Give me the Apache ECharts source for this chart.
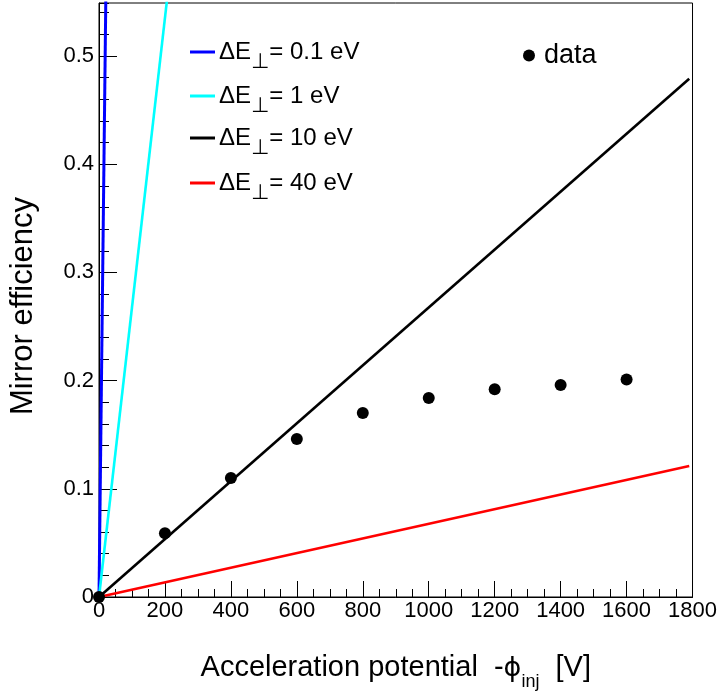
<!DOCTYPE html>
<html>
<head>
<meta charset="utf-8">
<script src="https://cdn.jsdelivr.net/npm/echarts@6/dist/echarts.min.js"></script>
<style>html,body{margin:0;padding:0;background:#fff;}#c{width:720px;height:696px;}</style>
</head>
<body>
<div id="c"></div>
<script>
// ---- data ----
const dataX = [0, 200, 400, 600, 800, 1000, 1200, 1400, 1600];
const dataY = [0, 0.059, 0.110, 0.146, 0.170, 0.184, 0.192, 0.196, 0.201];
const modelNames = ['0.1', '1', '10', '40'];
const modelStartX = 0;
const modelEndX = 1790;
const modelEndY = [47.9, 4.79, 0.479, 0.121];
const modelColors = ['#0000ff', '#00ffff', '#000000', '#ff0000'];
const xTicks = [0, 200, 400, 600, 800, 1000, 1200, 1400, 1600, 1800];
const yTicks = [0, 0.1, 0.2, 0.3, 0.4, 0.5];

const FONT = 'Liberation Sans, Arial, sans-serif';
const chart = echarts.init(document.getElementById('c'), null, {renderer: 'canvas'});

const lineSeries = modelNames.map((n, i) => ({
  name: 'm' + i,
  type: 'line',
  xAxisIndex: 0, yAxisIndex: 0,
  data: [[modelStartX, 0], [modelEndX, modelEndY[i]]],
  showSymbol: false, symbol: 'none',
  clip: true,
  lineStyle: {color: modelColors[i], width: i === 0 ? 3 : 2.6},
  itemStyle: {color: modelColors[i]},
  z: 2
}));

const scatter = {
  name: 'data',
  type: 'scatter',
  data: dataX.map((x, i) => [x, dataY[i]]),
  symbol: 'circle', symbolSize: 12,
  itemStyle: {color: '#000', opacity: 1},
  clip: false,
  z: 5
};

const legendRich = {
  a: {fontSize: 24, fontFamily: FONT, color: '#000', verticalAlign: 'bottom', padding: [0, 0, 9, 0]},
  s: {fontSize: 21, fontFamily: 'DejaVu Sans, Liberation Sans, sans-serif', color: '#000', verticalAlign: 'bottom'}
};
const legendTops = [40, 84, 126, 171];
const legends = modelNames.map((n, i) => ({
  show: true,
  left: 190, top: legendTops[i],
  padding: 0,
  data: ['m' + i],
  itemWidth: 25, itemHeight: 3,
  icon: 'rect',
  itemStyle: {color: modelColors[i]},
  formatter: () => '{a|ΔE}{s|⊥}{a|= ' + n + ' eV}',
  textStyle: {rich: legendRich, padding: [9, 0, 0, -1]},
  selectedMode: false
}));
legends.push({
  show: true, left: 523, top: 42, padding: 0,
  data: ['data'], icon: 'circle', itemWidth: 12, itemHeight: 12,
  textStyle: {fontSize: 27, fontFamily: FONT, color: '#000', padding: [0, 0, 0, 4]},
  selectedMode: false
});

const option = {
  animation: false,
  backgroundColor: '#fff',
  grid: {left: 98, right: 26, top: 3, bottom: 93, show: true, borderColor: '#000', borderWidth: 1, backgroundColor: 'transparent'},
  legend: legends,
  xAxis: {
    type: 'value', min: 0, max: 1800, interval: 200,
    axisLine: {show: true, lineStyle: {color: '#000', width: 1}},
    axisTick: {show: true, inside: true, length: 16, lineStyle: {color: '#000', width: 1}},
    minorTick: {show: true, splitNumber: 4, length: 8, lineStyle: {color: '#000', width: 1}},
    splitLine: {show: false},
    axisLabel: {fontSize: 22, fontFamily: FONT, color: '#000', margin: 3,
      formatter: v => xTicks.indexOf(v) >= 0 ? String(v) : ''},
    name: '{a|Acceleration potential  -}{p|ϕ}{s|inj}{a|  [V]}',
    nameLocation: 'middle', nameGap: 56,
    nameTextStyle: {rich: {
      a: {fontSize: 29, fontFamily: FONT, color: '#000', verticalAlign: 'bottom', padding: [0, 0, 9, 0]},
      p: {fontSize: 27, fontFamily: 'DejaVu Sans, sans-serif', color: '#000', verticalAlign: 'bottom', padding: [0, 0, 9, 0]},
      s: {fontSize: 18, fontFamily: FONT, color: '#000', verticalAlign: 'bottom'}
    }}
  },
  yAxis: [{
    type: 'value', min: 0, max: 0.549, interval: 0.1,
    axisLine: {show: true, lineStyle: {color: '#000', width: 1}},
    axisTick: {show: true, inside: true, length: 18, lineStyle: {color: '#000', width: 1}},
    splitLine: {show: false},
    axisLabel: {fontSize: 22, fontFamily: FONT, color: '#000', margin: 5, showMaxLabel: false,
      formatter: v => {
        const t = yTicks.find(k => Math.abs(k - v) < 1e-9);
        if (t === undefined) return '';
        return t === 0 ? '0' : t.toFixed(1);
      }},
    name: 'Mirror efficiency', nameLocation: 'middle', nameGap: 60,
    nameTextStyle: {fontSize: 31, fontFamily: FONT, color: '#000', padding: [0, 12, 0, 0]}
  }, {
    type: 'value', min: 0, max: 0.549, interval: 0.02, position: 'left',
    axisLine: {show: false},
    axisTick: {show: true, inside: true, length: 10, lineStyle: {color: '#000', width: 1}},
    axisLabel: {show: false},
    splitLine: {show: false}
  }],
  series: lineSeries.concat([scatter])
};
chart.setOption(option);
</script>
</body>
</html>
